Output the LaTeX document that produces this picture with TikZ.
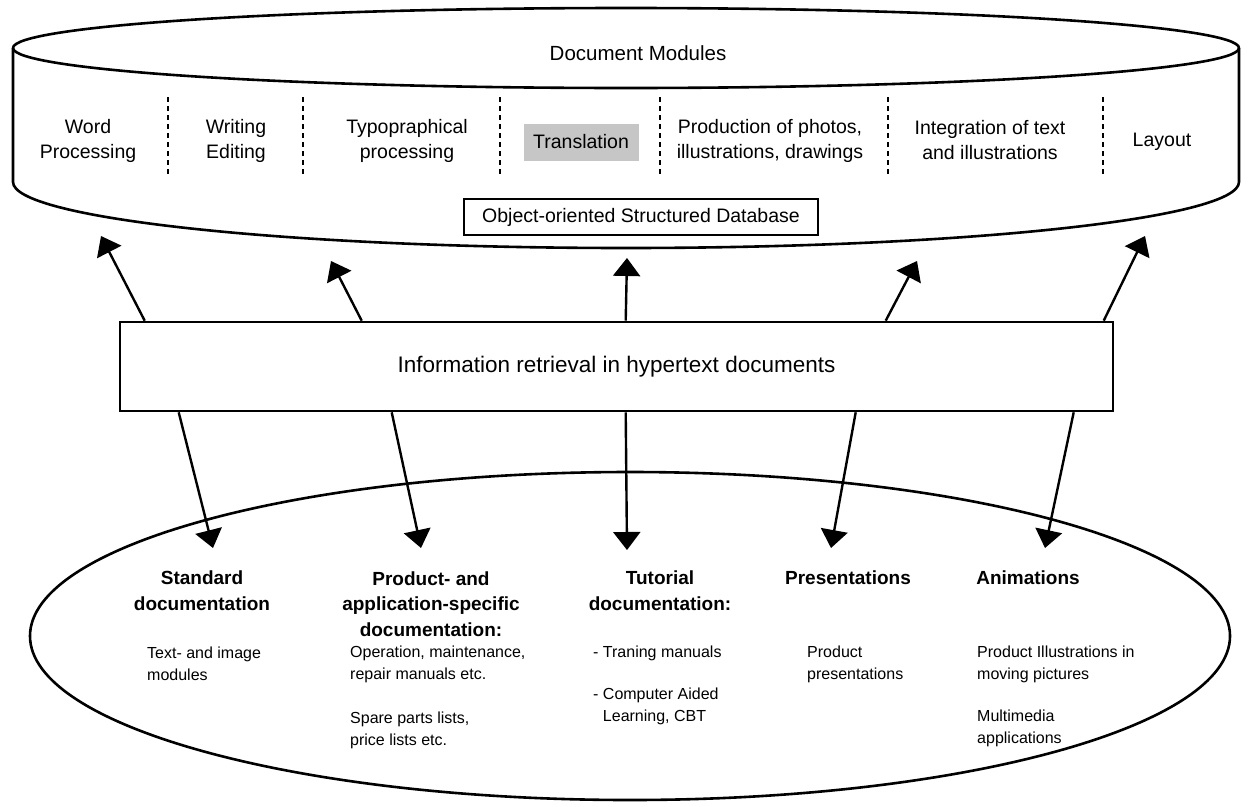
\documentclass[tikz,border=0pt]{standalone}
\usepackage{fontspec}
\setmainfont{Liberation Sans}
\usetikzlibrary{arrows.meta}
\begin{document}
\begin{tikzpicture}[x=1pt,y=-1pt,
  outline/.style={line width=2.6pt, line join=round},
  sepline/.style={line width=2.2pt, dash pattern=on 5pt off 4pt},
  modlabel/.style={font=\fontsize{19.5}{25}\selectfont, align=center, inner sep=0pt},
  flow/.style={line width=2.4pt, -{Triangle[length=18pt,width=27pt]}},
  head/.style={font=\bfseries\fontsize{19}{25.5}\selectfont, align=center, inner sep=0pt},
  note/.style={font=\fontsize{16}{22}\selectfont, align=left, anchor=west, inner sep=0pt},
]
\useasboundingbox (0,0) rectangle (1249,806);

% document-module cylinder
\draw[outline] (13,48) -- (13,182) arc[start angle=180, end angle=0, x radius=613, y radius=66] -- (1239,48);
\draw[outline] (626,48) ellipse [x radius=613, y radius=40];
\node[modlabel, font=\fontsize{20.5}{25}\selectfont] (dm) at (638,53) {Document Modules};

% module separators
\foreach \sx in {168,303,500,660,888,1103}
  \draw[sepline] (\sx,97) -- (\sx,177);

% modules
\node[modlabel] (w1) at (88,140.5) {Word\\Processing};
\node[modlabel] (w2) at (236,140.5) {Writing\\Editing};
\node[modlabel] (w3) at (407,140.5) {Typopraphical\\processing};
\node[modlabel, fill=gray!45, minimum width=115pt, minimum height=37pt] (w4) at (581,142) {Translation};
\node[modlabel] (w5) at (770,140.5) {Production of photos,\\illustrations, drawings};
\node[modlabel] (w6) at (990,140.5) {Integration of text\\and illustrations};
\node[modlabel] (w7) at (1162,142) {Layout};

\node[modlabel, draw, line width=2pt, minimum width=354pt, minimum height=36pt] (db) at (641,217) {Object-oriented Structured Database};

% retrieval layer
\node[draw, line width=2.6pt, minimum width=993pt, minimum height=89pt, inner sep=0pt,
      font=\fontsize{22.5}{27}\selectfont] (irb) at (616.5,366.5) {Information retrieval in hypertext documents};

% documentation types
\draw[outline] (630,636) ellipse [x radius=600, y radius=164];

\node[head] (h1) at (202,590.5) {Standard\\documentation};
\node[head] (h2) at (431,604) {Product- and\\application-specific\\documentation:};
\node[head] (h3) at (660,590.5) {Tutorial\\documentation:};
\node[head] (h4) at (848,578) {Presentations};
\node[head] (h5) at (1028,578) {Animations};

\node[note] (n1) at (147,664) {Text- and image\\modules};
\node[note] (n2) at (350,664) {Operation, maintenance,\\repair manuals etc.};
\node[note] (n3) at (350,730) {Spare parts lists,\\price lists etc.};
\node[note] (n4) at (593,653) {- Traning manuals};
\node[note] (n5) at (593,706) {- Computer Aided\\\phantom{- }Learning, CBT};
\node[note] (n6) at (807,664) {Product\\presentations};
\node[note] (n7) at (977,664) {Product Illustrations in\\moving pictures};
\node[note] (n8) at (977,728) {Multimedia\\applications};

% arrow targets
\coordinate (u1) at (101,236);
\coordinate (u2) at (331,261);
\coordinate (u3) at (627,258);
\coordinate (u4) at (917,261);
\coordinate (u5) at (1145,236);
\coordinate (d1) at (213,548);
\coordinate (d2) at (421,548);
\coordinate (d3) at (627,550);
\coordinate (d4) at (831,548);
\coordinate (d5) at (1045,548);

% retrieval to modules
\draw[flow] ([xshift=26pt]irb.north west) -- (u1);
\draw[flow] ([xshift=243pt]irb.north west) -- (u2);
\draw[flow] ([xshift=507pt]irb.north west) -- (u3);
\draw[flow] ([xshift=767pt]irb.north west) -- (u4);
\draw[flow] ([xshift=985pt]irb.north west) -- (u5);

% retrieval to documentation
\draw[flow] ([xshift=60pt]irb.south west) -- (d1);
\draw[flow] ([xshift=273pt]irb.south west) -- (d2);
\draw[flow] ([xshift=507pt]irb.south west) -- (d3);
\draw[flow] ([xshift=737pt]irb.south west) -- (d4);
\draw[flow] ([xshift=955pt]irb.south west) -- (d5);
\end{tikzpicture}
\end{document}
